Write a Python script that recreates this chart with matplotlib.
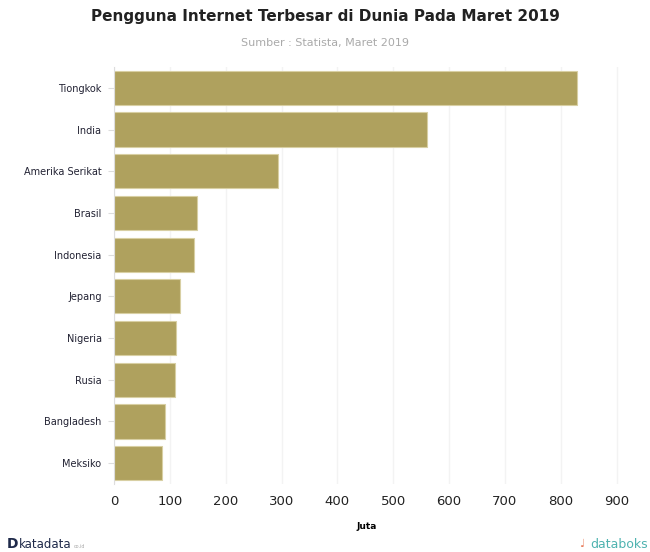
import matplotlib.pyplot as plt

# Data (juta pengguna)
negara = ['Tiongkok', 'India', 'Amerika Serikat', 'Brasil', 'Indonesia',
          'Jepang', 'Nigeria', 'Rusia', 'Bangladesh', 'Meksiko']
pengguna = [829, 560, 293, 149, 143, 118, 111, 109, 92, 86]
xticks = [0, 100, 200, 300, 400, 500, 600, 700, 800, 900]

bar_color = '#afa15e'

fig = plt.figure(figsize=(6.5, 5.52), dpi=100)
ax = fig.add_axes([114 / 650, 1 - 484 / 552, 506 / 650, 417 / 552])

y = list(range(len(negara)))
ax.barh(y, pengguna, height=0.82, color=bar_color,
        edgecolor='#d8cfa3', linewidth=0.8, zorder=2)
ax.set_ylim(len(negara) - 0.5, -0.5)
ax.set_xlim(0, 906)

ax.set_yticks(y)
ax.set_yticklabels(negara, fontsize=7, color='#222233')
ax.set_xticks(xticks)
ax.set_xticklabels([str(t) for t in xticks], fontsize=9.5, color='#222222')
ax.tick_params(axis='y', length=4, color='#dddddd', pad=5)
ax.tick_params(axis='x', length=0, pad=8)

ax.grid(axis='x', color='#f3f3f3', linewidth=1, zorder=0)
for s in ['top', 'right', 'bottom']:
    ax.spines[s].set_visible(False)
ax.spines['left'].set_color('#dddddd')

ax.set_xlabel('Juta', fontsize=6.5, fontweight='bold', labelpad=10)

fig.text(0.5, 1 - 16 / 552, 'Pengguna Internet Terbesar di Dunia Pada Maret 2019',
         ha='center', va='center', fontsize=11, fontweight='bold', color='#222222')
fig.text(0.5, 1 - 43 / 552, 'Sumber : Statista, Maret 2019',
         ha='center', va='center', fontsize=8, color='#aaaaaa')

# logos as text
fig.text(7 / 650, 1 - 544 / 552, 'D', ha='left', va='center',
         fontsize=10, fontweight='bold', color='#1f2a4a')
fig.text(19 / 650, 1 - 544 / 552, 'katadata', ha='left', va='center',
         fontsize=8.5, color='#1f2a4a')
fig.text(74 / 650, 1 - 546 / 552, 'co.id', ha='left', va='center',
         fontsize=3.5, color='#aaaaaa')
fig.text(648 / 650, 1 - 544 / 552, 'databoks', ha='right', va='center',
         fontsize=9, color='#4fb3b0')
fig.text(579 / 650, 1 - 544 / 552, '\u2669', ha='left', va='center',
         fontsize=8, color='#e87b5a')

fig.savefig('out.png', dpi=100)
